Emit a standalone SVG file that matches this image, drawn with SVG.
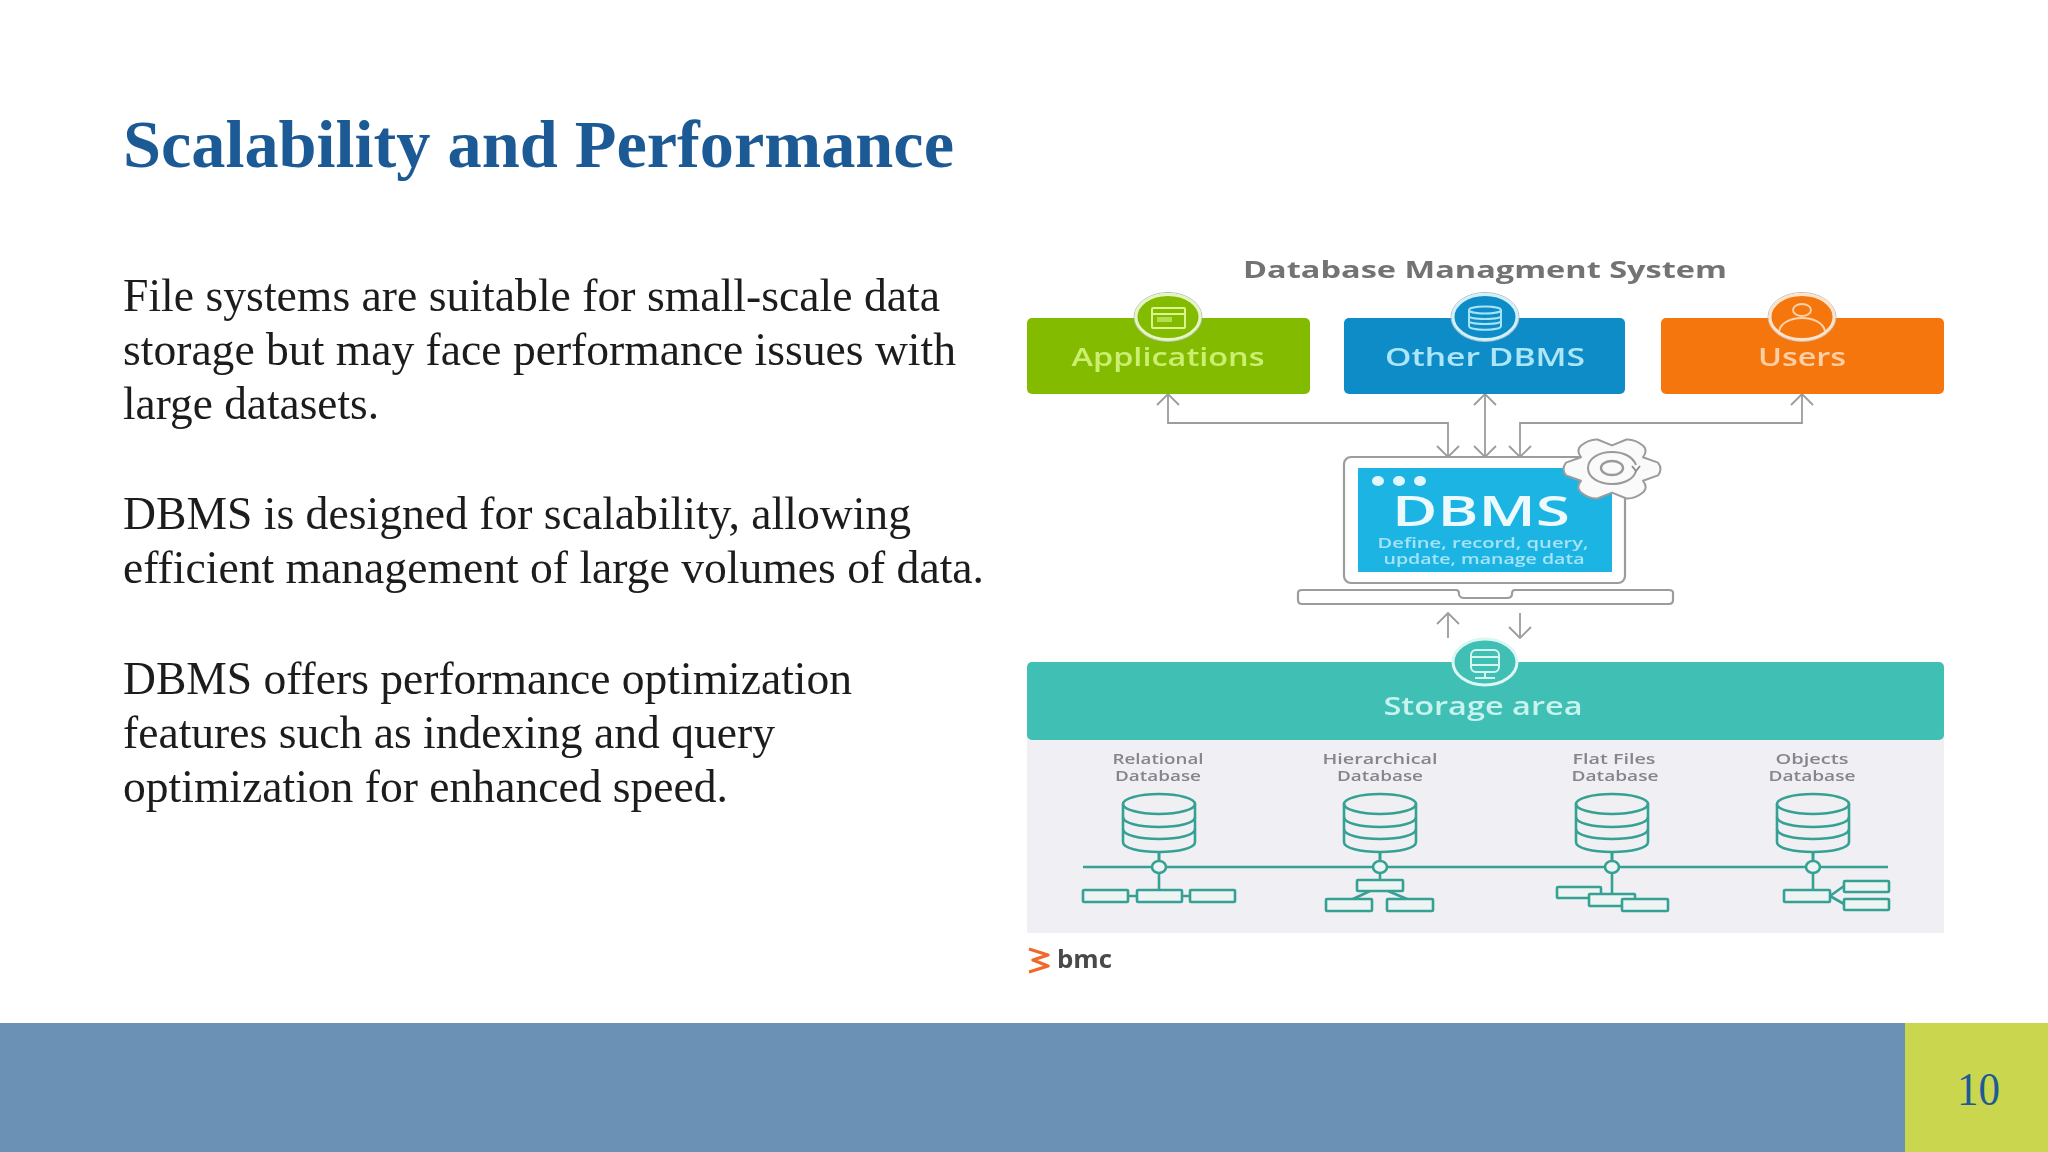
<svg xmlns="http://www.w3.org/2000/svg" width="2048" height="1152" viewBox="0 0 2048 1152">
<style>
.slide{font-family:"Liberation Serif","Times New Roman",serif}
.body{font-size:46px;fill:#1c1c1c}
.d{font-family:"Open Sans","Noto Sans",sans-serif;text-anchor:middle}
.lab{font-size:15px;fill:#87848d;font-weight:600}
.btn{font-size:25px;font-weight:600}
.ring{stroke-width:3}
.teal{fill:none;stroke:#35a193;stroke-width:2.6}
.box{fill:#eef3f4;stroke:#35a193;stroke-width:2.6}
.conn{fill:none;stroke:#9c9c9e;stroke-width:1.8}
.ic{fill:none;stroke-width:2}
</style>
<defs>
<filter id="soft" x="-2%" y="-2%" width="104%" height="104%"><feGaussianBlur stdDeviation="0.55"/></filter>
<filter id="softer" x="-2%" y="-5%" width="104%" height="110%"><feGaussianBlur stdDeviation="0.25"/></filter>
<marker id="ah" markerUnits="userSpaceOnUse" markerWidth="16" markerHeight="26" viewBox="-13 -13 15 26" refX="0" refY="0" orient="auto-start-reverse"><path d="M-11,-11 L0,0 L-11,11" fill="none" stroke="#9c9c9e" stroke-width="1.8"/></marker>
<g id="cyl" class="teal">
<ellipse cx="0" cy="804" rx="36" ry="10"/>
<path d="M-36,804 V842 C-36,848 -20,852 0,852 C20,852 36,848 36,842 V804"/>
<path d="M-36,817 C-36,823 -20,827 0,827 C20,827 36,823 36,817"/>
<path d="M-36,829 C-36,835 -20,839 0,839 C20,839 36,835 36,829"/>
<path d="M0,852 V860"/>
</g>
</defs>
<rect width="2048" height="1152" fill="#ffffff"/>

<g id="slide-title" filter="url(#softer)"><text class="slide" x="123" y="167" font-size="68" font-weight="700" fill="#1d5a96" textLength="831" lengthAdjust="spacingAndGlyphs">Scalability and Performance</text></g>
<g id="slide-body" class="slide" filter="url(#softer)">
<text class="body" x="123" y="310.500" textLength="817" lengthAdjust="spacingAndGlyphs">File systems are suitable for small-scale data</text>
<text class="body" x="123" y="365" textLength="833" lengthAdjust="spacingAndGlyphs">storage but may face performance issues with</text>
<text class="body" x="123" y="419" textLength="256" lengthAdjust="spacingAndGlyphs">large datasets.</text>
<text class="body" x="123" y="529" textLength="788" lengthAdjust="spacingAndGlyphs">DBMS is designed for scalability, allowing</text>
<text class="body" x="123" y="583" textLength="861" lengthAdjust="spacingAndGlyphs">efficient management of large volumes of data.</text>
<text class="body" x="123" y="693.500" textLength="729" lengthAdjust="spacingAndGlyphs">DBMS offers performance optimization</text>
<text class="body" x="123" y="747.500" textLength="652" lengthAdjust="spacingAndGlyphs">features such as indexing and query</text>
<text class="body" x="123" y="801.500" textLength="605" lengthAdjust="spacingAndGlyphs">optimization for enhanced speed.</text>
</g>
<g id="footer">
<rect x="0" y="1023" width="1905" height="129" fill="#6b91b5"/>
<rect x="1905" y="1023" width="143" height="129" fill="#cbd64f"/>
<text class="slide" x="1957" y="1105" font-size="47" fill="#1d5a96" textLength="43" lengthAdjust="spacingAndGlyphs">10</text>
</g>

<g id="diagram" filter="url(#soft)">
<text class="d" x="1485" y="278" font-size="24" font-weight="700" fill="#737376" textLength="484" lengthAdjust="spacingAndGlyphs">Database Managment System</text>

<g id="connectors">
<path class="conn" d="M1168,394 V423 H1448 V457" marker-start="url(#ah)" marker-end="url(#ah)"/>
<path class="conn" d="M1485,394 V457" marker-start="url(#ah)" marker-end="url(#ah)"/>
<path class="conn" d="M1802,394 V423 H1520 V457" marker-start="url(#ah)" marker-end="url(#ah)"/>
<path class="conn" d="M1448,638 V613" marker-end="url(#ah)"/>
<path class="conn" d="M1520,613 V638" marker-end="url(#ah)"/>
</g>

<g id="node-applications">
<rect x="1027" y="318" width="283" height="76" rx="5" fill="#82bb05"/>
<ellipse cx="1168" cy="317" rx="34" ry="24.500" fill="none" stroke="#b9bfb0" stroke-width="1"/>
<ellipse class="ring" cx="1168" cy="317" rx="32" ry="22.500" fill="#82bb05" stroke="#e4f6c6"/>
<g class="ic" stroke="#dcf58e"><rect x="1152" y="308" width="33" height="20" rx="1"/><path d="M1152,314 H1185"/><rect x="1157" y="317" width="15" height="5" fill="#b6dc52" stroke="none"/></g>
<text class="d btn" x="1168" y="366" fill="#cdef70" textLength="193" lengthAdjust="spacingAndGlyphs">Applications</text>
</g>
<g id="node-other-dbms">
<rect x="1344" y="318" width="281" height="76" rx="5" fill="#0f8cc7"/>
<ellipse cx="1485" cy="317" rx="34" ry="24.500" fill="none" stroke="#b4bcc2" stroke-width="1"/>
<ellipse class="ring" cx="1485" cy="317" rx="32" ry="22.500" fill="#0f8cc7" stroke="#d0f0fa"/>
<g class="ic" stroke="#a8e4f8"><ellipse cx="1485" cy="310" rx="16" ry="3.500"/><path d="M1469,310 V326 C1469,331 1501,331 1501,326 V310 M1469,316 C1469,320 1501,320 1501,316 M1469,321 C1469,325 1501,325 1501,321"/></g>
<text class="d btn" x="1485" y="366" fill="#ade6f8" textLength="200" lengthAdjust="spacingAndGlyphs">Other DBMS</text>
</g>
<g id="node-users">
<rect x="1661" y="318" width="283" height="76" rx="5" fill="#f5760f"/>
<ellipse cx="1802" cy="317" rx="34" ry="24.500" fill="none" stroke="#c5bdb6" stroke-width="1"/>
<ellipse class="ring" cx="1802" cy="317" rx="32" ry="22.500" fill="#f5760f" stroke="#fde3cb"/>
<g class="ic" stroke="#fcd2ab"><ellipse cx="1802" cy="310" rx="9" ry="6"/><path d="M1779,331 C1781,322 1792,318 1802,318 C1812,318 1823,322 1825,331"/></g>
<text class="d btn" x="1802" y="366" fill="#fcd0a6" textLength="88" lengthAdjust="spacingAndGlyphs">Users</text>
</g>

<g id="node-dbms">
<rect x="1344" y="457" width="281" height="126" rx="7" fill="#ffffff" stroke="#9c9c9e" stroke-width="2.200"/>
<rect x="1358" y="468" width="254" height="104" fill="#1fb4e3"/>
<ellipse cx="1378" cy="481" rx="6" ry="5" fill="#e2f6fc"/><ellipse cx="1399" cy="481" rx="6" ry="5" fill="#e2f6fc"/><ellipse cx="1420" cy="481" rx="6" ry="5" fill="#e2f6fc"/>
<text class="d" x="1481" y="526" font-size="42" font-weight="600" fill="#ecfafe" textLength="178" lengthAdjust="spacingAndGlyphs">DBMS</text>
<text class="d" x="1483" y="548" font-size="15" font-weight="600" fill="#a5e3f6" textLength="211" lengthAdjust="spacingAndGlyphs">Define, record, query,</text>
<text class="d" x="1484" y="564" font-size="15" font-weight="600" fill="#a5e3f6" textLength="201" lengthAdjust="spacingAndGlyphs">update, manage data</text>
<path d="M1302,590 H1456 C1459,590 1459,592 1459,594 C1459,597 1462,598 1464,598 H1507 C1510,598 1512,597 1512,594 C1512,592 1512,590 1515,590 H1669 C1672,590 1673,591 1673,593 V600 C1673,603 1671,604 1669,604 H1302 C1300,604 1298,603 1298,600 V593 C1298,591 1300,590 1302,590 Z" fill="#ffffff" stroke="#9c9c9e" stroke-width="2.200"/>
<path d="M1658,462.600 Q1663,469 1658,475.400 L1643,480.800 Q1648,487 1643.500,492 Q1635,499 1626.500,498.500 L1612,492.600 L1597.500,498.500 Q1589,499 1580.500,492 Q1576,487 1581,480.800 L1566,475.400 Q1561,469 1566,462.600 L1581,457.200 Q1576,451 1580.500,446 Q1589,439 1597.500,439.500 L1612,445.400 L1626.500,439.500 Q1635,439 1643.500,446 Q1648,451 1643,457.200 Z" fill="#fafafa" stroke="#9c9c9e" stroke-width="2" stroke-linejoin="round"/>
<ellipse cx="1612" cy="468" rx="11" ry="7" fill="none" stroke="#9a9a9c" stroke-width="2.400"/>
<path d="M1636,471 C1634,479 1624,484 1612,484 C1598,484 1588,477 1588,468 C1588,459 1598,452 1612,452 C1624,452 1633,457 1636,465" fill="none" stroke="#9a9a9c" stroke-width="2"/>
<path d="M1632,466 L1636,471 L1640,466" fill="none" stroke="#8a8a8c" stroke-width="1.800"/>
</g>

<g id="node-storage">
<rect x="1027" y="735" width="917" height="198" fill="#f0eff3"/>
<rect x="1027" y="662" width="917" height="78" rx="5" fill="#40bfb5"/>
<ellipse class="ring" cx="1485" cy="662" rx="32" ry="23" fill="#40bfb5" stroke="#dcf6f3"/>
<g class="ic" stroke="#d5f5f1"><rect x="1471" y="650" width="28" height="22" rx="5"/><path d="M1471,657 H1499 M1471,665 H1499 M1485,672 V677 M1475,678 H1495"/></g>
<text class="d" x="1483" y="715" font-size="25" font-weight="600" fill="#c9f3ee" textLength="199" lengthAdjust="spacingAndGlyphs">Storage area</text>
</g>

<g id="node-bus">
<path class="teal" d="M1083,867 H1888"/>
</g>

<g id="node-relational">
<text class="d lab" x="1158" y="764" textLength="91" lengthAdjust="spacingAndGlyphs">Relational</text>
<text class="d lab" x="1158" y="781" textLength="86" lengthAdjust="spacingAndGlyphs">Database</text>
<use href="#cyl" x="1159"/>
<path class="teal" d="M1159,852 V890 M1128,896 H1137 M1182,896 H1190"/>
<ellipse class="box" cx="1159" cy="867" rx="7" ry="6"/>
<rect class="box" x="1083" y="890" width="45" height="12" rx="1"/><rect class="box" x="1137" y="890" width="45" height="12" rx="1"/><rect class="box" x="1190" y="890" width="45" height="12" rx="1"/>
</g>
<g id="node-hierarchical">
<text class="d lab" x="1380" y="764" textLength="115" lengthAdjust="spacingAndGlyphs">Hierarchical</text>
<text class="d lab" x="1380" y="781" textLength="86" lengthAdjust="spacingAndGlyphs">Database</text>
<use href="#cyl" x="1380"/>
<path class="teal" d="M1380,852 V880 M1370,891 L1353,899 M1388,891 L1407,899"/>
<ellipse class="box" cx="1380" cy="867" rx="7" ry="6"/>
<rect class="box" x="1357" y="880" width="46" height="11" rx="1"/><rect class="box" x="1326" y="899" width="46" height="12" rx="1"/><rect class="box" x="1387" y="899" width="46" height="12" rx="1"/>
</g>
<g id="node-flat-files">
<text class="d lab" x="1614" y="764" textLength="83" lengthAdjust="spacingAndGlyphs">Flat Files</text>
<text class="d lab" x="1615" y="781" textLength="87" lengthAdjust="spacingAndGlyphs">Database</text>
<use href="#cyl" x="1612"/>
<path class="teal" d="M1612,852 V894"/>
<ellipse class="box" cx="1612" cy="867" rx="7" ry="6"/>
<rect class="box" x="1557" y="887" width="44" height="11" rx="1"/><rect class="box" x="1589" y="894" width="46" height="12" rx="1"/><rect class="box" x="1622" y="899" width="46" height="12" rx="1"/>
</g>
<g id="node-objects">
<text class="d lab" x="1812" y="764" textLength="73" lengthAdjust="spacingAndGlyphs">Objects</text>
<text class="d lab" x="1812" y="781" textLength="87" lengthAdjust="spacingAndGlyphs">Database</text>
<use href="#cyl" x="1813"/>
<path class="teal" d="M1813,852 V890 M1830,896 L1844,886 M1830,896 L1844,904"/>
<ellipse class="box" cx="1813" cy="867" rx="7" ry="6"/>
<rect class="box" x="1784" y="890" width="46" height="12" rx="1"/><rect class="box" x="1844" y="881" width="45" height="11" rx="1"/><rect class="box" x="1844" y="899" width="45" height="11" rx="1"/>
</g>

<g id="bmc-logo">
<path d="M1029,949 L1048,955 L1033,960 L1048,966 L1029,972" fill="none" stroke="#ef6a2a" stroke-width="3.400" stroke-linejoin="round"/>
<text x="1057" y="968" font-family="'Open Sans','Noto Sans',sans-serif" font-size="25" font-weight="700" fill="#4a4a4c" textLength="55" lengthAdjust="spacingAndGlyphs">bmc</text>
</g>
</g>
</svg>
